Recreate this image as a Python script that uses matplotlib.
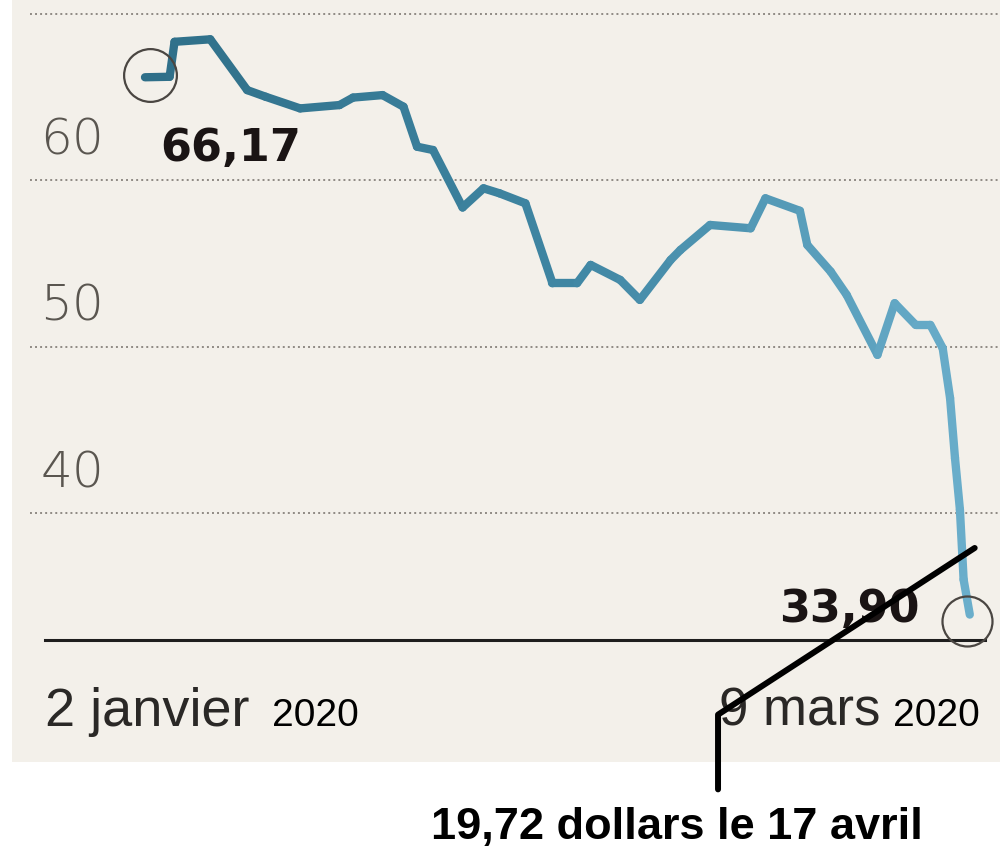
import matplotlib
matplotlib.use("Agg")
import matplotlib.pyplot as plt
import numpy as np
from matplotlib.collections import LineCollection
from matplotlib.patches import Rectangle

# ---- data ----
# days elapsed since 2 January 2020 (x position of each vertex of the curve)
jours = [0.0, 2.0, 2.4, 5.3, 8.3, 9.8, 12.6, 15.8, 16.9, 19.3, 21.0, 22.1, 23.4,
         25.8, 27.5, 28.8, 30.9, 33.1, 35.1, 36.2, 38.6, 40.2, 42.7, 43.5, 45.9,
         49.2, 50.4, 53.2, 53.8, 55.7, 57.0, 59.5, 60.9, 62.6, 63.8, 64.8, 65.4,
         65.8, 66.2, 66.5, 67.0]
prix = [66.17, 66.2, 68.3, 68.45, 65.4, 65.0, 64.3, 64.5, 64.95, 65.1, 64.4, 62.0, 61.8,
        58.35, 59.5, 59.2, 58.6, 53.8, 53.8, 54.9, 54.0, 52.8, 55.2, 55.8, 57.3,
        57.1, 58.9, 58.15, 56.1, 54.5, 53.1, 49.5, 52.6, 51.3, 51.3, 49.9, 46.9,
        43.3, 40.2, 36.0, 33.90]
graduations = [40, 50, 60, 70]
etiquettes_y = ["40", "50", "60"]
label_debut = "66,17"
label_fin = "33,90"
date_debut = ("2 janvier", "2020")
date_fin = ("9 mars", "2020")
note = "19,72 dollars le 17 avril"

W, H = 1000, 849
fig = plt.figure(figsize=(W / 100, H / 100), dpi=100)
fig.patch.set_facecolor("white")
ax = fig.add_axes([0, 0, 1, 1])
ax.set_axis_off()

# pixel calibration -> data limits
px_per_day = 12.31
px_per_unit = 16.65
x0_px, y60_px = 145, 180
ax.set_xlim(-x0_px / px_per_day, (W - x0_px) / px_per_day)
ax.set_ylim(60 - (H - y60_px) / px_per_unit, 60 + y60_px / px_per_unit)

# paper background (photo area)
ax.add_patch(Rectangle((0.012, 1 - 762 / H), 0.988, 762 / H, transform=ax.transAxes,
                       facecolor="#f3f0ea", edgecolor="none", zorder=0))

# dotted grid lines
for g in graduations:
    ax.axhline(g, xmin=0.03, xmax=1.0, color="#8f8a84", lw=1.4,
               linestyle=(0, (1, 1.6)), zorder=1)

# y labels (above their grid line)
for lab in etiquettes_y:
    ax.text(-8.5, float(lab) + 2.4, lab, fontsize=36, color="#5a5650",
            fontweight="light", ha="left", va="center", zorder=2)

# baseline
base = 32.4
ax.axhline(base, xmin=0.045, xmax=0.985, color="#1e1e1e", lw=2.2, zorder=2)

# price line, colour fading from dark teal to light blue
x = np.array(jours)
y = np.array(prix)
pts = np.column_stack([x, y]).reshape(-1, 1, 2)
segs = np.concatenate([pts[:-1], pts[1:]], axis=1)
cmap = matplotlib.colors.LinearSegmentedColormap.from_list(
    "c", ["#2f6f89", "#3f86a3", "#6aaecb"])
t = (x[:-1] - x.min()) / (x.max() - x.min())
lc = LineCollection(segs, colors=cmap(t), linewidths=6.0, capstyle="round",
                    joinstyle="round", zorder=4)
ax.add_collection(lc)

# circles at start and end
ax.plot([jours[0] + 0.4], [prix[0] + 0.15], marker="o", ms=38, mfc="none",
        mec="#4a4642", mew=1.6, zorder=5)
ax.plot([jours[-1] - 0.2], [prix[-1] - 0.4], marker="o", ms=36, mfc="none",
        mec="#4a4642", mew=1.6, zorder=5)

# value labels
ax.text(jours[0] + 1.2, 61.9, label_debut, fontsize=32, fontweight="heavy",
        color="#1a1414", ha="left", va="center", zorder=6)
ax.text(62.9, 34.2, label_fin, fontsize=32, fontweight="heavy",
        color="#1a1414", ha="right", va="center", zorder=6)

# date labels (sharing a common baseline)
ydate = 60 - (726 - y60_px) / px_per_unit
ax.text(-8.1, ydate, date_debut[0], fontsize=39, color="#2a2826",
        family="Liberation Sans", ha="left", va="baseline", zorder=6)
ax.text(46.6, ydate, date_fin[0], fontsize=38, color="#2a2826",
        family="Liberation Sans", ha="left", va="baseline", zorder=6)
ax.text(10.3, ydate, date_debut[1], fontsize=28, color="black",
        family="Liberation Sans", ha="left", va="baseline", zorder=6)
ax.text(60.8, ydate, date_fin[1], fontsize=28, color="black",
        family="Liberation Sans", ha="left", va="baseline", zorder=6)

# call-out line and note
ax.annotate("", xy=(67.4, 37.9), xytext=(46.55, 23.4),
            arrowprops=dict(arrowstyle="-", lw=4.3, color="black",
                            connectionstyle="angle,angleA=90,angleB=33,rad=0",
                            shrinkA=0, shrinkB=0), zorder=7)
ax.text(43.2, 21.1, note, color="black", ha="center", va="center", zorder=7,
        family="Liberation Sans", fontsize=32.5, fontweight="bold")

fig.savefig("out.png", dpi=100, facecolor="white")
